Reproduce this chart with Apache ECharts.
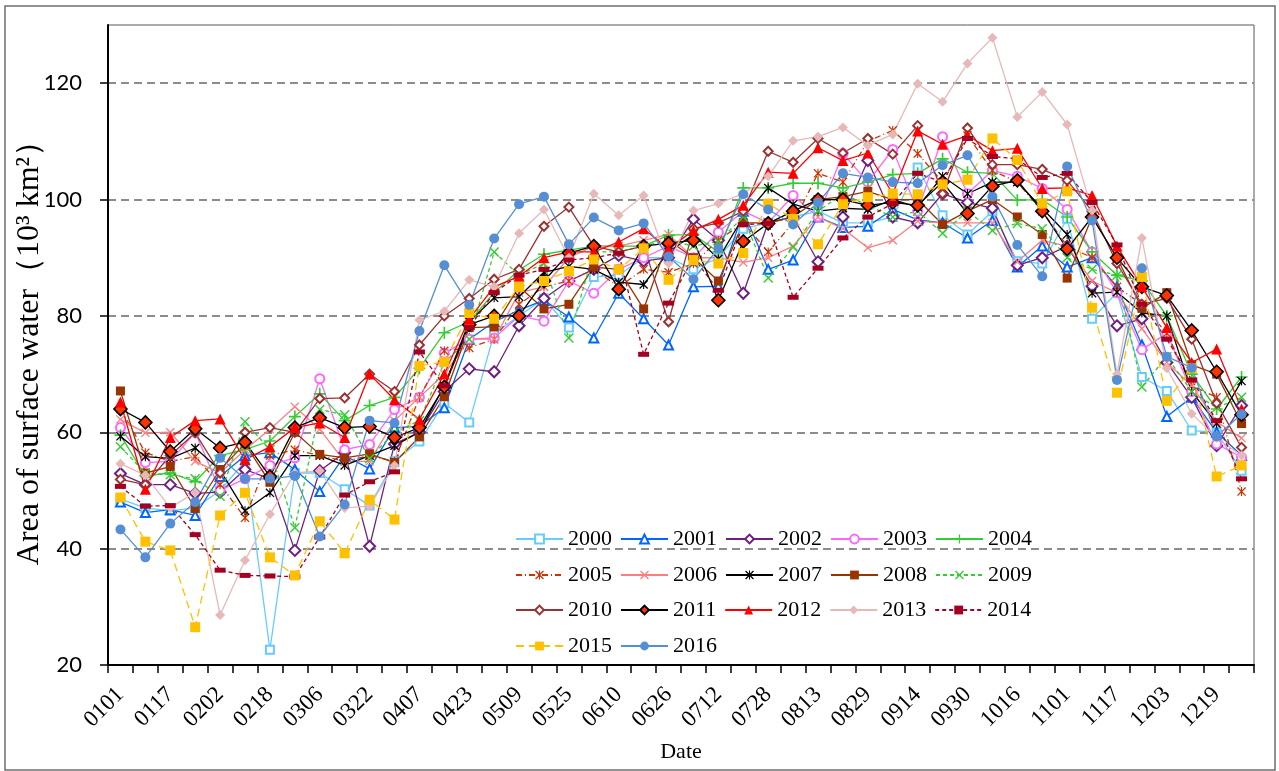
<!DOCTYPE html>
<html><head><meta charset="utf-8">
<script src="https://cdn.jsdelivr.net/npm/echarts@6/dist/echarts.min.js"></script>
<style>html,body{margin:0;padding:0;background:#fff}#c{width:1279px;height:771px}</style>
</head><body><div id="c"></div>
<script>
const dates = ['0101','0109','0117','0125','0202','0210','0218','0226','0306','0314','0322','0330','0407','0415','0423','0501','0509','0517','0525','0602','0610','0618','0626','0704','0712','0720','0728','0805','0813','0821','0829','0906','0914','0922','0930','1008','1016','1024','1101','1109','1117','1125','1203','1211','1219','1227'];
const yTicks = [20, 40, 60, 80, 100, 120];

const v2000 = [48.5,47,46.5,47,50,55,22.6,53,53,50.2,47.4,55,58.4,65,61.7,77,80,83,78,86.7,87,90,90,88,90,95,96,97,98,96,96,97,105.5,97.3,94,98,89.4,89,96.7,79.5,84,69.5,67.1,60.3,60,53.4];
const v2001 = [48,46.2,46.7,45.7,52.4,56,56.5,53.6,49.8,56,53.7,60.8,61,64.2,76,79,81,82.7,79.8,76.2,83.9,79.5,75,85,85.1,98,88,89.6,97,95.2,95.4,98.3,96.5,96,93.4,96.4,88.4,92,88.4,90,85,75,62.7,66,60,56];
const v2002 = [52.9,51,51,49.5,49.7,53.6,52,39.7,53.4,56.5,40.4,58,60,67,70.9,70.4,78.3,83,86,88,90.4,89.4,90,96.6,93,83.9,96,97,89.3,97,106.7,97,96,101,99.5,98.5,88.7,90,92,85.1,78.3,79.5,72,66,57.7,64.6];
const v2003 = [60.8,54.8,55,60,50,52,54.3,55.6,69.2,57,57.9,63.9,66,73.6,76,76.2,80,79.1,86,83.9,88,90,92,90,94.4,98,96,100.7,97,107.9,103,108.6,98,110.8,101,105,104,101.9,98.3,91,84,74.2,77,67,58,55.7];
const v2004 = [59.5,52.5,53,51.5,56,57,58.5,62.7,66.6,62,64.6,66,71,77.1,79,84,87.9,90.6,91.3,92,92,92,93.9,94,91,102,102,102.8,102.8,102,103,104.3,104.5,107,104.7,104.5,99.9,100,97,91,87,86,80,70,64,69.5];
const v2005 = [64,56.5,55,55.8,51,45.3,56,57,56,55,56,55,66,74,74.5,76,82,85,86,88,85,88,87.5,89,93,96,91,96,104.5,103,110,111.9,107.9,103,111,105,103,98,92,90,85,82,77,68,66,49.8];
const v2006 = [62.2,59.9,60,55,53,57,60.5,64.4,60.5,55,55,62,66,70,76,76,84,85,90,92,92,93,94,90,90,89.2,90,92,97,95,91.7,93,96.3,96,96,96,89.3,93,92,86,84,77.8,72,68,61.8,59];
const v2007 = [59.3,55.8,55.5,57.3,53.5,46.5,49.6,56,56,54.3,56,57.7,60,68,79,83.1,83.3,87.5,88.5,88,85.8,85.4,91,94,89.8,97,102,99.2,98,98.5,98.3,100,98.7,104,101,103,103,98.5,94,83.9,84.1,80.5,80,67,61.5,68.8];
const v2008 = [67.1,53,54.1,46.9,53.6,58,51.4,60,56.2,55.6,56.3,54.8,59.2,66.1,78,78.1,85,81.2,82,88.4,88,81.2,93,90,86,96,96,97,100,100.5,101.4,100,100,95.7,98,100,97,94,86.5,97,90,81.3,84,71.6,70,61.5];
const v2009 = [57.5,53,52.7,52,49,61.8,57,43.6,63.9,63,55.5,60,62,72,76,91,87,89,76.2,91,91,92,93,92,92.8,97,86.5,91.8,98,101,99,97,98,94.2,98,94.7,95.9,95,90,88,87,67.8,73,67,64.2,66];
const v2010 = [51.9,51,56,59.9,53,60,60.8,60,65.8,65.9,70,67,75,80,83,86.3,88,95.4,98.7,92,91,92,79,95,96,98,108.3,106.4,110.5,108,110.5,107.8,112.7,101,112.3,106,106,105.2,103.3,98,89,82,83,76,65,57.4];
const v2011 = [64,61.7,56.7,60.6,57.3,58.3,52.4,60.8,62.5,60.8,61,59.1,60.8,67.8,78.5,80,80,86,90.8,92,84.6,92,92.5,93,82.7,92.8,95.9,98,100,100,99,99.5,99,103,97.6,102.3,103.3,98,91.5,97,90,85,83.5,77.5,70.4,63];
const v2012 = [65.2,50.2,59.1,62,62.3,55.3,57.5,60.8,61.6,59.1,70,65.6,62.2,70,79.5,85,86.8,90,91,91,92.7,95,91.5,94.7,96.6,99,104.7,104.5,108.9,106.7,108,101,111.8,109.5,111,108.4,108.8,101.9,102,100.7,92,85,78,72,74.3,64];
const v2013 = [54.6,52.6,47,49.7,28.6,38,45.9,53,53.4,47,47.3,54.3,79.3,80.8,86.2,85,94.2,98.3,90,101,97.3,100.7,89,98.1,99.3,101,104,110.1,110.8,112.4,109.3,111.2,119.9,116.8,123.4,127.8,114.2,118.5,112.9,98.1,70,93.4,71,63.2,59,56];
const v2014 = [50.7,47.3,47.4,42.4,36.3,35.4,35.3,35.2,42,49.2,51.5,53.2,73.8,68,78,84,87,88,89.6,90,90.8,73.4,82.2,90,84.4,95.7,95.9,83.2,88.2,93.4,97,99.3,104.5,103,110.5,107.4,107,103.8,104.5,99.5,92.2,82,76,69,62,52];
const v2015 = [48.8,41.2,39.7,26.5,45.7,49.6,38.5,35.4,44.7,39.2,48.4,45,71.4,72.1,80.5,79.5,85,86,87.7,89.7,88,91.6,86.2,89.6,89,90.8,99.3,96.7,92.3,99.2,100.4,101,100.9,102.6,103.4,110.5,106.8,99.3,101.4,81.4,66.8,86.7,65.4,71,52.4,54.3];
const v2016 = [43.3,38.5,44.3,48,55.6,52,52,52.5,42.1,47.6,62,61.6,77.4,88.7,81.9,93.3,99.2,100.5,92.3,96.9,94.7,95.9,90.2,86.3,91.6,100.9,98.3,95.7,99.5,104.5,103.8,103,102.8,105.9,107.6,100.5,92.2,86.8,105.7,96.4,69,88.2,73,71.1,59.3,63.1];

const years = ['2000','2001','2002','2003','2004','2005','2006','2007','2008','2009','2010','2011','2012','2013','2014','2015','2016'];
const values = [v2000,v2001,v2002,v2003,v2004,v2005,v2006,v2007,v2008,v2009,v2010,v2011,v2012,v2013,v2014,v2015,v2016];

const PLUS = 'path://M0,4.3H10V5.7H0Z M4.3,0H5.7V10H4.3Z';
const CROSS = 'path://M1,0L5,4L9,0L10,1L6,5L10,9L9,10L5,6L1,10L0,9L4,5L0,1Z';
const STAR = 'path://M1,0L5,4L9,0L10,1L6,5L10,9L9,10L5,6L1,10L0,9L4,5L0,1Z M4.4,0H5.6V10H4.4Z';

const styles = [
  {c:'#66CCFF', s:'emptyRect', z:8},
  {c:'#0066FF', s:'emptyTriangle', z:9},
  {c:'#6E1F80', s:'emptyDiamond', z:11},
  {c:'#FF66FF', s:'emptyCircle', z:9},
  {c:'#33CC33', s:PLUS, z:12},
  {c:'#CC3300', s:STAR, z:9, t:[6,3,1,3]},
  {c:'#FF7C80', s:CROSS, z:9},
  {c:'#000000', s:STAR, z:9},
  {c:'#993300', s:'rect', z:9},
  {c:'#33CC33', s:CROSS, z:10, t:[4,3]},
  {c:'#993333', s:'emptyDiamond', z:9},
  {c:'#000000', s:'diamond', z:13, fill:'#FF3300'},
  {c:'#FF0000', s:'triangle', z:11},
  {c:'#E6B9B8', s:'diamond', z:10},
  {c:'#A50021', s:'rect', z:[11,5], t:[4,3]},
  {c:'#FFC000', s:'rect', z:10, t:[8,5]},
  {c:'#558ED5', s:'circle', z:10}
];

const series = years.map((y, i) => {
  const st = styles[i];
  const empty = typeof st.s === 'string' && st.s.indexOf('empty') === 0;
  return {
    name: y, type: 'line', data: values[i],
    symbol: st.s, symbolSize: st.z, showAllSymbol: true,
    lineStyle: {color: st.c, width: 1.3, type: st.t || 'solid'},
    itemStyle: st.fill ? {color: st.fill, borderColor: '#000', borderWidth: 1.6}
             : empty ? {color: st.c, borderColor: st.c, borderWidth: 1.6}
             : {color: st.c, borderWidth: 0},
    emphasis: {disabled: true}
  };
});

const legendRows = [years.slice(0,5), years.slice(5,10), years.slice(10,15), years.slice(15)];
const rowCenters = [539, 575, 610, 646];
const legends = legendRows.map((row, r) => ({
  data: row, left: 515, top: rowCenters[r] - 11, orient: 'horizontal', padding: 0,
  itemWidth: 47, itemHeight: 11, itemGap: 8, selectedMode: false,
  textStyle: {fontFamily: 'Liberation Serif', fontSize: 22, color: '#000'}
}));

const chart = echarts.init(document.getElementById('c'), null, {renderer: 'canvas'});
chart.setOption({
  animation: false,
  backgroundColor: '#fff',
  grid: {left: 108, right: 25, top: 25, bottom: 106, show: true, borderColor: '#595959', borderWidth: 1,
         containLabel: false, outerBoundsMode: 'none'},
  legend: legends,
  xAxis: {
    type: 'category', data: dates, boundaryGap: true,
    name: 'Date', nameLocation: 'middle', nameGap: 76, nameMoveOverlap: false,
    nameTextStyle: {fontFamily: 'Liberation Serif', fontSize: 22, color: '#000'},
    axisLine: {lineStyle: {color: '#000', width: 2}},
    axisTick: {show: true, interval: 0, length: 8, lineStyle: {color: '#000', width: 1.5}},
    axisLabel: {interval: 1, rotate: 45, margin: 26, fontFamily: 'Liberation Serif', fontSize: 23, color: '#000'},
    splitLine: {show: false}
  },
  yAxis: {
    type: 'value', min: 20, max: 130, interval: 20,
    name: 'Area of surface water（10³ km²）', nameLocation: 'middle', nameGap: 62, nameRotate: 90,
    nameMoveOverlap: false,
    nameTextStyle: {fontFamily: 'Liberation Serif', fontSize: 32, color: '#000'},
    axisLine: {show: true, lineStyle: {color: '#000', width: 2}},
    axisTick: {show: true, length: 8, lineStyle: {color: '#000', width: 1.5}, customValues: yTicks},
    axisLabel: {margin: 26, fontFamily: 'Lato', fontSize: 22, color: '#000', customValues: yTicks},
    splitLine: {show: true, lineStyle: {color: '#8C8C8C', width: 2, type: [8, 5]}}
  },
  graphic: [{
    type: 'rect', silent: true, z: 100,
    shape: {x: 5, y: 6, width: 1270, height: 764},
    style: {fill: 'none', stroke: '#6f6f6f', lineWidth: 1.5}
  }],
  series: series
});
</script></body></html>
